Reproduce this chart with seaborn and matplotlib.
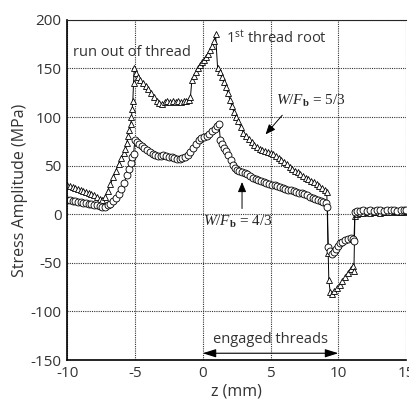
import numpy as np
import pandas as pd
import matplotlib
matplotlib.use("Agg")
import matplotlib.pyplot as plt
import seaborn as sns

# W/Fb = 5/3 (triangles)
z_53 = [-10.0, -9.8, -9.6, -9.4, -9.2, -9.0, -8.8, -8.6, -8.4, -8.2, -8.0, -7.8, -7.6, -7.4,
        -7.2, -7.0, -6.8, -6.6, -6.4, -6.2, -6.0, -5.8, -5.7, -5.6, -5.5, -5.4, -5.3, -5.25,
        -5.2, -5.15, -5.1, -5.05, -4.95, -4.8, -4.6, -4.4, -4.2, -4.0, -3.8, -3.6, -3.4, -3.2,
        -3.0, -2.8, -2.6, -2.4, -2.2, -2.0, -1.8, -1.6, -1.4, -1.2, -1.0, -0.9, -0.8, -0.65,
        -0.5, -0.35, -0.2, -0.05, 0.1, 0.25, 0.4, 0.55, 0.7, 0.85, 0.95, 1.1, 1.25, 1.4, 1.55,
        1.7, 1.85, 2.0, 2.15, 2.3, 2.45, 2.6, 2.8, 3.0, 3.2, 3.4, 3.6, 3.8, 4.0, 4.2, 4.4, 4.6,
        4.8, 5.0, 5.2, 5.4, 5.6, 5.8, 6.0, 6.2, 6.4, 6.6, 6.8, 7.0, 7.2, 7.4, 7.6, 7.8, 8.0,
        8.2, 8.4, 8.6, 8.8, 9.0, 9.15, 9.25, 9.3, 9.4, 9.55, 9.7, 9.9, 10.1, 10.3, 10.5, 10.7,
        10.9, 11.05, 11.15, 11.22, 11.35, 11.6, 11.85, 12.1, 12.35, 12.6, 12.85, 13.1, 13.35,
        13.6, 13.85, 14.1, 14.35, 14.6, 14.85, 15.0]
s_53 = [30, 29, 28, 27, 26, 25, 24, 23, 22, 21, 20, 18, 16, 15,
        18, 24, 31, 38, 45, 52, 58, 63, 67, 73, 81, 87, 93, 100,
        108, 117, 135, 150, 145, 141, 138, 135, 132, 129, 125, 121, 117, 114,
        113, 115, 116, 115, 116, 115, 116, 115, 116, 117, 118, 121, 138, 142,
        146, 150, 154, 157, 159, 162, 165, 169, 173, 178, 185, 150, 146, 141, 136,
        131, 125, 118, 111, 105, 100, 96, 90, 84, 80, 77, 74, 71, 69, 67, 66, 65,
        64, 63, 62, 60, 58, 56, 54, 52, 49, 47, 45, 43, 41, 39, 37, 36, 34,
        33, 31, 29, 27, 25, 23, -40, -68, -80, -82, -79, -76, -73, -69, -65, -60,
        -56, -53, -58, -2, 0, 1, 1, 2, 1, 2, 2, 1, 2,
        2, 2, 3, 2, 2, 2, 3]

# W/Fb = 4/3 (circles)
z_43 = [-10.0, -9.8, -9.6, -9.4, -9.2, -9.0, -8.8, -8.6, -8.4, -8.2, -8.0, -7.8, -7.6, -7.4,
        -7.2, -7.0, -6.8, -6.6, -6.4, -6.2, -6.0, -5.8, -5.6, -5.45, -5.3, -5.2, -5.1, -5.0,
        -4.85, -4.7, -4.5, -4.3, -4.1, -3.9, -3.7, -3.5, -3.3, -3.1, -2.9, -2.7, -2.5, -2.3,
        -2.1, -1.9, -1.7, -1.5, -1.3, -1.1, -0.9, -0.7, -0.5, -0.3, -0.1, 0.1, 0.3, 0.5, 0.7,
        0.9, 1.05, 1.2, 1.3, 1.45, 1.6, 1.75, 1.9, 2.05, 2.2, 2.35, 2.5, 2.7, 2.9, 3.1, 3.3,
        3.5, 3.7, 3.9, 4.1, 4.3, 4.5, 4.7, 4.9, 5.1, 5.3, 5.5, 5.7, 5.9, 6.1, 6.3, 6.5, 6.7,
        6.9, 7.1, 7.3, 7.5, 7.7, 7.9, 8.1, 8.3, 8.5, 8.7, 8.9, 9.1, 9.2, 9.25, 9.4, 9.55, 9.7,
        9.85, 10.0, 10.15, 10.3, 10.5, 10.7, 10.9, 11.05, 11.15, 11.22, 11.35, 11.6, 11.85,
        12.1, 12.35, 12.6, 12.85, 13.1, 13.35, 13.6, 13.85, 14.1, 14.35, 14.6, 14.85, 15.0]
s_43 = [15, 15, 14, 14, 13, 13, 12, 12, 11, 11, 10, 9, 8, 7,
        7, 9, 11, 14, 17, 21, 26, 32, 40, 47, 53, 59, 62, 76,
        74, 72, 70, 68, 66, 64, 62, 61, 60, 60, 61, 60, 59, 59,
        58, 57, 57, 58, 59, 61, 64, 68, 72, 76, 78, 79, 81, 83, 86,
        88, 91, 93, 76, 72, 68, 65, 61, 56, 51, 48, 46, 45, 43, 42, 41,
        39, 37, 36, 35, 34, 33, 32, 31, 30, 30, 29, 28, 27, 26, 25, 25, 24,
        23, 22, 22, 21, 20, 18, 17, 16, 15, 14, 13, 12, 7, -34, -38, -41, -39,
        -36, -33, -30, -29, -27, -25, -24, -25, -28, 2, 3, 3, 4,
        3, 4, 3, 4, 4, 3, 4, 4, 4, 3, 4, 4, 4]

sns.set_style("white")
plt.rcParams["font.family"] = ["Open Sans", "DejaVu Sans"]
plt.rcParams["axes.unicode_minus"] = False
plt.rcParams["mathtext.fontset"] = "custom"
plt.rcParams["mathtext.it"] = "Liberation Serif:italic"
plt.rcParams["mathtext.rm"] = "Liberation Serif"
plt.rcParams["mathtext.bf"] = "Liberation Serif:bold"
plt.rcParams["mathtext.sf"] = "Open Sans"

fig = plt.figure(figsize=(4.09, 4.05), dpi=100)
ax = fig.add_axes([0.164, 0.111, 0.829, 0.840])

df53 = pd.DataFrame({"z": z_53, "s": s_53})
df43 = pd.DataFrame({"z": z_43, "s": s_43})
sns.lineplot(data=df53, x="z", y="s", ax=ax, sort=False, estimator=None, color="black",
             lw=0.7, marker="^", markersize=5, markerfacecolor="white",
             markeredgecolor="black", markeredgewidth=0.6)
sns.lineplot(data=df43, x="z", y="s", ax=ax, sort=False, estimator=None, color="black",
             lw=0.7, marker="o", markersize=5, markerfacecolor="white",
             markeredgecolor="black", markeredgewidth=0.6)

ax.set_xlim(-10, 15)
ax.set_ylim(-150, 200)
ax.set_xticks([-10, -5, 0, 5, 10, 15])
ax.set_yticks([-150, -100, -50, 0, 50, 100, 150, 200])
ax.grid(True, color="#333333", lw=0.8, ls=(0, (1, 1)))
ax.tick_params(length=0, labelsize=11, colors="#333333", pad=4)
ax.set_xlabel("z (mm)", fontsize=11.5, color="#333333", labelpad=2)
ax.set_ylabel("Stress Amplitude (MPa)", fontsize=11.5, color="#333333", labelpad=2)
for side in ["left", "bottom"]:
    ax.spines[side].set_color("black")
    ax.spines[side].set_linewidth(1.2)
ax.spines["top"].set_linewidth(0.8)
ax.spines["right"].set_visible(False)

ax.text(-5.2, 166, "run out of thread", fontsize=10.5, color="#333333", ha="center", va="center")
ax.text(1.75, 181, "1$^{\\mathsf{st}}$ thread root", fontsize=10.5, color="#333333",
        ha="left", va="center")
ax.text(5.4, 117, r"$W/F_{\mathbf{b}}$ = 5/3", family="Liberation Serif", fontsize=11,
        ha="left", va="center")
ax.text(0.05, -8, r"$W/F_{\mathbf{b}}$ = 4/3", family="Liberation Serif", fontsize=11,
        ha="left", va="center")
ax.annotate("", xy=(4.5, 80), xytext=(6.0, 104),
            arrowprops=dict(arrowstyle="-|>,head_length=0.6,head_width=0.25", color="black", lw=0.7))
ax.annotate("", xy=(2.9, 36), xytext=(2.9, 3),
            arrowprops=dict(arrowstyle="-|>,head_length=0.6,head_width=0.25", color="black", lw=0.7))
ax.text(5.0, -129, "engaged threads", fontsize=10.5, color="#333333", ha="center", va="center")
ax.annotate("", xy=(0.0, -143), xytext=(10.0, -143),
            arrowprops=dict(arrowstyle="<|-|>,head_length=0.8,head_width=0.25", color="black",
                            lw=0.8, shrinkA=0, shrinkB=0))

fig.savefig("out.png", dpi=100)
